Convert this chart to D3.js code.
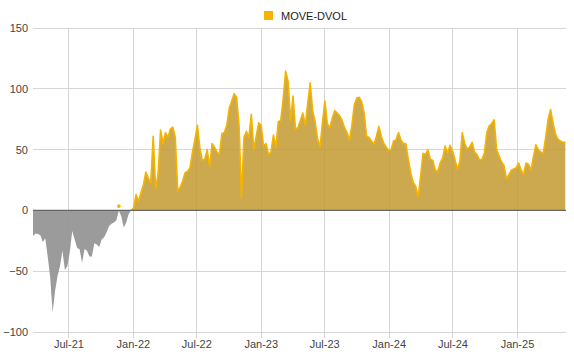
<!DOCTYPE html>
<html><head><meta charset="utf-8">
<script src="https://cdn.jsdelivr.net/npm/d3@7"></script>
<style>body{margin:0;background:#fff}svg{display:block}text{font-family:"Liberation Sans",Arial,sans-serif}</style>
</head><body><svg id="c" width="574" height="360"></svg>
<script>
const seriesName = "MOVE-DVOL";
const startDate = "2021-03-22"; // weekly observations
const values = [
-21,-19,-19.5,-20.5,-26,-23,-38,-55,-84,-66,-54,-46,-33,-49,-46,-34,-17,-24,-31,-32,
-43,-32,-33,-38,-38,-27,-28,-30,-24,-22,-18,-13,-11,-10,-8,3.5,-5,-14,-10,-3,
0,2,13,7.5,14.5,21,31.5,26.5,22.5,61,18,30,66,55,64,60,67,68.5,60,16,
19,24,31,32,35,48,58,70,52,41,42,50,36,55,52,48,46,63,64,70,
84,90,96,93,70,10.5,60,65,60,79,50,61,72,70,53,55,46,48,62,52,
73,74,92,114.5,106,74,94,67,68,74,80,70,88,105,82,73,59,52.5,72,90,
71,68,76,82,80,78,74,68,64,58,70,87,92.5,93,89.5,80,61,60,57,54.5,
61,69,61,55,52,49.5,50,57,58,64,58,55,55,42,31,23,20,11,28,47,
46,50,42,41,33,32,39,43,53,47,53.5,49,42,34,40,64,55,50.5,52,56,
48,46,41.5,42,47,64,69.5,71.5,74.5,50,45,40,37,26,29.5,33,34,35,39,33,
29.5,39,38,33,44,54,50,48,47,60,75,83,72,63,58.5,57,56,56
];
const yTicks = [-100,-50,0,50,100,150];
const xTickDates = ["2021-07-01","2022-01-01","2022-07-01","2023-01-01","2023-07-01","2024-01-01","2024-07-01","2025-01-01"];
const xTickFormat = "%b-%y";

const parse = d3.utcParse("%Y-%m-%d");
const t0 = parse(startDate);
const data = values.map((v,i)=>({date:d3.utcDay.offset(t0, i*7), v}));

const svg = d3.select("#c");
const x = d3.scaleUtc().domain(d3.extent(data,d=>d.date)).range([33,565.3]);
const y = d3.scaleLinear().domain([-100,150]).range([332,28]);

// horizontal gridlines
svg.append("g").selectAll("line").data(yTicks.filter(t=>t!==0)).join("line")
  .attr("x1",33).attr("x2",566).attr("y1",d=>y(d)).attr("y2",d=>y(d))
  .attr("stroke","#d6d6d6").attr("stroke-width",1).attr("shape-rendering","crispEdges");
// vertical gridlines
const xt = xTickDates.map(parse);
svg.append("g").selectAll("line").data(xt).join("line")
  .attr("x1",d=>Math.round(x(d))+0.5).attr("x2",d=>Math.round(x(d))+0.5)
  .attr("y1",28).attr("y2",338)
  .attr("stroke","#d6d6d6").attr("stroke-width",1);

// negative area
const negArea = d3.area().x(d=>x(d.date)).y0(y(0)).y1(d=>y(d.v<0?d.v:0));
svg.append("path").datum(data).attr("d",negArea).attr("fill","#969696").attr("fill-opacity",0.95);

// positive area + line
const posDefined = d=>d.v>=0;
const posArea = d3.area().defined(posDefined).x(d=>x(d.date)).y0(y(0)).y1(d=>y(d.v));
svg.append("path").datum(data).attr("d",posArea).attr("fill","#c3992f").attr("fill-opacity",0.85);
const posLine = d3.line().defined(posDefined).x(d=>x(d.date)).y(d=>y(d.v));
svg.append("path").datum(data).attr("d",posLine).attr("fill","none")
  .attr("stroke","#f4b400").attr("stroke-width",1.6).attr("stroke-linejoin","round");
// isolated positive points
const iso = data.filter((d,i)=>d.v>0 && !(data[i-1]&&data[i-1].v>=0) && !(data[i+1]&&data[i+1].v>=0));
svg.append("g").selectAll("circle").data(iso).join("circle")
  .attr("cx",d=>x(d.date)).attr("cy",d=>y(d.v)).attr("r",1.8).attr("fill","#f4b400");

// zero line
svg.append("line").attr("x1",33).attr("x2",566).attr("y1",y(0)).attr("y2",y(0))
  .attr("stroke","#666").attr("stroke-width",1.3);

// axes labels
const yAxis = d3.axisLeft(y).tickValues(yTicks).tickSize(0).tickPadding(5);
const gy = svg.append("g").attr("transform","translate(33,0)").call(yAxis);
gy.select(".domain").remove();
gy.selectAll("text").attr("font-size",11).attr("fill","#444").attr("font-family","Liberation Sans, Arial, sans-serif");

const xAxis = d3.axisBottom(x).tickValues(xt).tickFormat(d3.utcFormat(xTickFormat)).tickSize(0).tickPadding(8);
const gx = svg.append("g").attr("transform","translate(0,332)").call(xAxis);
gx.select(".domain").remove();
gx.selectAll("text").attr("font-size",11).attr("fill","#444").attr("font-family","Liberation Sans, Arial, sans-serif");

// legend
const lg = svg.append("g").attr("transform","translate(264,11)");
lg.append("rect").attr("width",9).attr("height",9).attr("fill","#f4b400");
lg.append("text").attr("x",17).attr("y",8.5).attr("font-size",11).attr("fill","#222").text(seriesName);
</script></body></html>
